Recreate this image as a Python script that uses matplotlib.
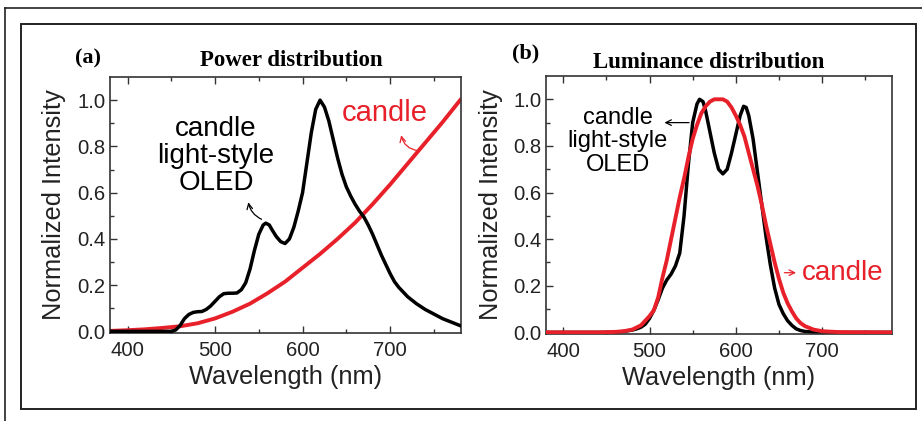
import numpy as np
import matplotlib.pyplot as plt
from matplotlib.lines import Line2D
from matplotlib.patches import Rectangle

plt.rcParams['font.family'] = ['Liberation Sans', 'DejaVu Sans']

# (a) power distribution
wl_a_oled = [380, 400, 420, 440, 450, 455, 460, 465, 470, 475, 480, 485, 490, 495,
             500, 505, 510, 515, 520, 525, 530, 535, 540, 545, 550, 555, 558, 562,
             565, 570, 575, 580, 585, 590, 595, 600, 605, 610, 615, 620, 625, 630,
             635, 640, 645, 650, 655, 660, 665, 670, 675, 680, 685, 690, 695, 700,
             705, 710, 715, 720, 730, 740, 750, 760, 770, 780]
pw_a_oled = [0, 0, 0, 0, 0.0, 0.006, 0.025, 0.055, 0.073, 0.082, 0.085, 0.086, 0.095, 0.11,
             0.13, 0.15, 0.163, 0.165, 0.165, 0.166, 0.18, 0.21, 0.27, 0.35, 0.42, 0.46, 0.468, 0.46,
             0.44, 0.41, 0.388, 0.38, 0.40, 0.45, 0.52, 0.6, 0.73, 0.86, 0.96, 1.0, 0.97, 0.91,
             0.83, 0.75, 0.68, 0.625, 0.585, 0.55, 0.52, 0.495, 0.46, 0.42, 0.375, 0.33, 0.29, 0.25,
             0.215, 0.19, 0.17, 0.15, 0.12, 0.095, 0.075, 0.055, 0.04, 0.025]

wl_a_candle = [380, 400, 420, 440, 460, 480, 500, 520, 540, 560, 580, 600, 620, 640,
               660, 680, 700, 720, 740, 760, 780]
pw_a_candle = [0.002, 0.005, 0.009, 0.015, 0.022, 0.035, 0.056, 0.085, 0.12, 0.165, 0.215, 0.275, 0.335, 0.40,
               0.47, 0.55, 0.635, 0.725, 0.815, 0.905, 1.0]

# (b) luminance distribution
wl_b_oled = [380, 460, 465, 470, 475, 480, 485, 490, 495, 500, 505, 510, 515, 520, 525,
             530, 535, 540, 545, 550, 555, 558, 562, 565, 570, 575, 580, 585, 590, 595,
             600, 605, 609, 612, 615, 620, 625, 630, 635, 640, 645, 650, 655, 660, 665,
             670, 675, 680, 690, 700, 780]
lum_b_oled = [0, 0, 0.002, 0.004, 0.007, 0.01, 0.015, 0.022, 0.035, 0.06, 0.095, 0.14, 0.19, 0.225, 0.25,
              0.285, 0.34, 0.5, 0.72, 0.9, 0.98, 1.0, 0.99, 0.95, 0.86, 0.77, 0.70, 0.68, 0.70, 0.77,
              0.85, 0.93, 0.97, 0.965, 0.93, 0.83, 0.69, 0.55, 0.41, 0.29, 0.19, 0.12, 0.08, 0.05, 0.03,
              0.015, 0.008, 0.004, 0.001, 0, 0]

wl_b_candle = [380, 440, 460, 470, 480, 490, 495, 500, 505, 510, 515, 520, 525, 530, 535,
               540, 545, 550, 555, 560, 565, 570, 575, 580, 585, 590, 595, 600, 605, 610,
               615, 620, 625, 630, 635, 640, 645, 650, 655, 660, 665, 670, 675, 680, 690,
               700, 720, 780]
lum_b_candle = [0, 0, 0.002, 0.005, 0.012, 0.03, 0.05, 0.07, 0.095, 0.15, 0.235, 0.31, 0.4, 0.49, 0.58,
                0.66, 0.75, 0.83, 0.89, 0.94, 0.97, 0.99, 1.0, 1.0, 1.0, 0.99, 0.965, 0.93, 0.89, 0.84,
                0.77, 0.70, 0.63, 0.55, 0.46, 0.38, 0.30, 0.23, 0.17, 0.125, 0.09, 0.06, 0.04, 0.027, 0.012,
                0.005, 0.001, 0]

xticks = [400, 500, 600, 700]
yticks = [0.0, 0.2, 0.4, 0.6, 0.8, 1.0]

red = '#e8202a'
spine = '#333333'

fig = plt.figure(figsize=(9.22, 4.21), dpi=100)

# frames around the figure
fig.add_artist(Line2D([5/922, 1], [1 - 8/421, 1 - 8/421], color='#222222', lw=1.2))
fig.add_artist(Line2D([5/922, 5/922], [0, 1 - 8/421], color='#222222', lw=1.2))
fig.add_artist(Rectangle((21/922, 1 - 409/421), (916-21)/922, (409-24)/421,
                         fill=False, ec='#222222', lw=1.4))

ax1 = fig.add_axes([110/922, 1 - 333/421, (461-110)/922, (333-77)/421])
ax2 = fig.add_axes([546/922, 1 - 334/421, (892-546)/922, (334-76)/421])

ax1.plot(wl_a_oled, pw_a_oled, color='black', lw=2.5, zorder=3)
ax1.plot(wl_a_candle, pw_a_candle, color=red, lw=2.8, zorder=2)
ax2.plot(wl_b_oled, lum_b_oled, color='black', lw=2.5, zorder=2)
ax2.plot(wl_b_candle, lum_b_candle, color=red, lw=2.8, zorder=3)

for ax in (ax1, ax2):
    ax.set_xlim(380, 781)
    ax.set_ylim(-0.007, 1.1)
    ax.set_xticks(xticks)
    ax.set_yticks(yticks)
    ax.set_yticklabels(['%.1f' % v for v in yticks])
    ax.set_xticks([450, 550, 650, 750], minor=True)
    ax.set_yticks([0.1, 0.3, 0.5, 0.7, 0.9], minor=True)
    ax.tick_params(which='both', direction='in', top=True, right=False,
                   color=spine, labelsize=14.6, labelcolor='#222222')
    ax.tick_params(which='major', length=5, width=1)
    ax.tick_params(which='minor', length=3, width=1)
    ax.tick_params(axis='x', pad=6)
    ax.tick_params(axis='y', pad=3)
    for s in ax.spines.values():
        s.set_color(spine)
        s.set_linewidth(1.2)
    ax.set_xlabel('Wavelength (nm)', fontsize=18.3, color='#222222')
    ax.set_ylabel('Normalized Intensity', fontsize=18.3, color='#222222')

ax1.xaxis.set_label_coords(0.5, -0.125)
ax1.yaxis.set_label_coords(-0.125, 0.5)
ax2.xaxis.set_label_coords(0.5, -0.125)
ax2.yaxis.set_label_coords(-0.125, 0.5)

# titles
serif = ['Liberation Serif', 'DejaVu Serif']
fig.text(88/922, 1 - 58/421, '(a)', family=serif, weight='bold', fontsize=16,
         ha='center', va='center')
fig.text(291/922, 1 - 61/421, 'Power distribution', family=serif, weight='bold',
         fontsize=16.5, ha='center', va='center')
fig.text(526/922, 1 - 53/421, '(b)', family=serif, weight='bold', fontsize=16,
         ha='center', va='center')
fig.text(709/922, 1 - 62/421, 'Luminance distribution', family=serif, weight='bold',
         fontsize=16.5, ha='center', va='center')

# annotations panel (a)
ax1.text(501, 0.76, 'candle\nlight-style\nOLED', fontsize=20, ha='center', va='center',
         linespacing=1.05)
ax1.annotate('', xy=(537.5, 0.57), xytext=(556, 0.48),
             arrowprops=dict(arrowstyle='->', color='black', lw=0.9,
                             connectionstyle='arc3,rad=-0.3'))
ax1.text(694, 0.945, 'candle', color=red, fontsize=21, ha='center', va='center')
ax1.annotate('', xy=(712, 0.86), xytext=(735, 0.78),
             arrowprops=dict(arrowstyle='->', color=red, lw=0.9,
                             connectionstyle='arc3,rad=-0.4'))

# annotations panel (b)
ax2.text(463, 0.82, 'candle\nlight-style\nOLED', fontsize=17, ha='center', va='center',
         linespacing=1.1)
ax2.annotate('', xy=(514, 0.90), xytext=(549, 0.90),
             arrowprops=dict(arrowstyle='->', color='black', lw=0.9))
ax2.annotate('', xy=(673, 0.256), xytext=(653, 0.256),
             arrowprops=dict(arrowstyle='->', color=red, lw=0.9))
ax2.text(676, 0.256, 'candle', color=red, fontsize=20, ha='left', va='center')

plt.savefig('out.png', dpi=100)
